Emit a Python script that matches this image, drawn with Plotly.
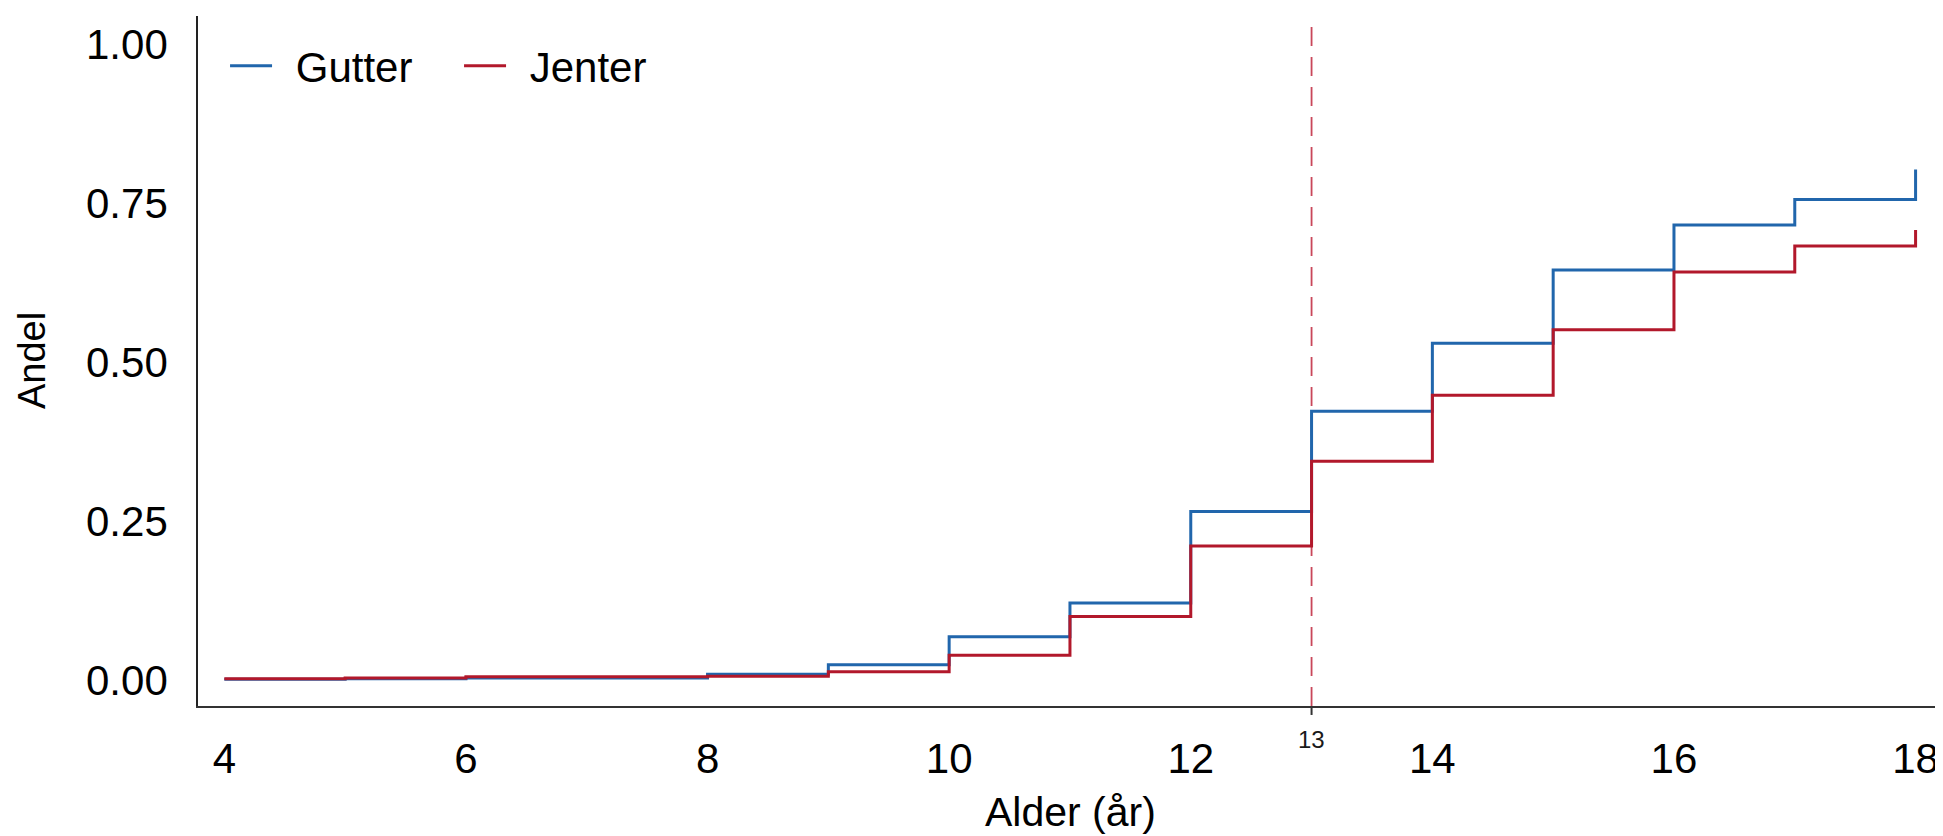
import plotly.graph_objects as go

# Data
ages = [4, 5, 6, 7, 8, 9, 10, 11, 12, 13, 14, 15, 16, 17, 18]
gutter = [0.001, 0.002, 0.003, 0.003, 0.009, 0.024, 0.068, 0.121, 0.265, 0.423, 0.530, 0.645, 0.716, 0.756, 0.803]
jenter = [0.002, 0.003, 0.005, 0.005, 0.006, 0.013, 0.039, 0.100, 0.211, 0.344, 0.448, 0.551, 0.642, 0.683, 0.708]
x_ticks = [4, 6, 8, 10, 12, 14, 16, 18]
y_ticks = [0.0, 0.25, 0.5, 0.75, 1.0]
y_tick_labels = ["0.00", "0.25", "0.50", "0.75", "1.00"]
series_names = ["Gutter", "Jenter"]
cutoff_age = 13

BLUE = "#2166AC"
RED = "#B2182B"
FONT = "Liberation Sans, Arial, sans-serif"
GAP = "\u00a0\u2006"

fig = go.Figure()
fig.add_trace(go.Scatter(x=ages, y=gutter, mode="lines", name=GAP + series_names[0],
                         line=dict(color=BLUE, width=3, shape="hv")))
fig.add_trace(go.Scatter(x=ages, y=jenter, mode="lines", name=GAP + series_names[1],
                         line=dict(color=RED, width=3, shape="hv")))

# dashed reference line
fig.add_shape(type="line", xref="x", yref="paper", x0=cutoff_age, x1=cutoff_age, y0=0, y1=1,
              line=dict(color="#C9475A", width=1.8, dash="19px,11px"), layer="below")
# small tick under axis at cutoff
fig.add_shape(type="line", xref="x", yref="paper", x0=cutoff_age, x1=cutoff_age, y0=0, y1=-0.013,
              line=dict(color="#333333", width=2))
fig.add_annotation(x=cutoff_age, xref="x", yref="paper", y=-0.048, text=str(cutoff_age),
                   showarrow=False, font=dict(size=24, color="#1a1a1a", family=FONT),
                   xanchor="center", yanchor="middle")

# axis titles
fig.add_annotation(x=0.5, xref="paper", y=-0.1536, yref="paper", text="Alder (år)",
                   showarrow=False, font=dict(size=41, color="black", family=FONT),
                   xanchor="center", yanchor="middle")
fig.add_annotation(x=-0.0951, xref="paper", y=0.5, yref="paper", text="Andel", textangle=-90,
                   showarrow=False, font=dict(size=38, color="black", family=FONT),
                   xanchor="center", yanchor="middle")

fig.update_layout(
    width=1935, height=828,
    margin=dict(l=190, r=0, t=8, b=130),
    paper_bgcolor="white", plot_bgcolor="white",
    font=dict(family=FONT, color="black"),
    showlegend=True,
    legend=dict(orientation="h", x=0.0155, y=0.977, xanchor="left", yanchor="top",
                font=dict(size=42, color="black", family=FONT),
                itemwidth=42, entrywidth=177, bgcolor="rgba(0,0,0,0)"),
    xaxis=dict(range=[3.782, 18.227], tickvals=x_ticks, ticktext=[str(v) for v in x_ticks],
               showgrid=False, zeroline=False, showline=True, linecolor="#333333", linewidth=2,
               ticks="", ticklabelstandoff=15, tickfont=dict(size=42, color="black")),
    yaxis=dict(range=[-0.0409, 1.0447], tickvals=y_ticks, ticktext=y_tick_labels,
               showgrid=False, zeroline=False, showline=True, linecolor="#222222", linewidth=1.7,
               ticks="", ticklabelstandoff=20, tickfont=dict(size=42, color="black")),
)

fig.write_html("out.html")
